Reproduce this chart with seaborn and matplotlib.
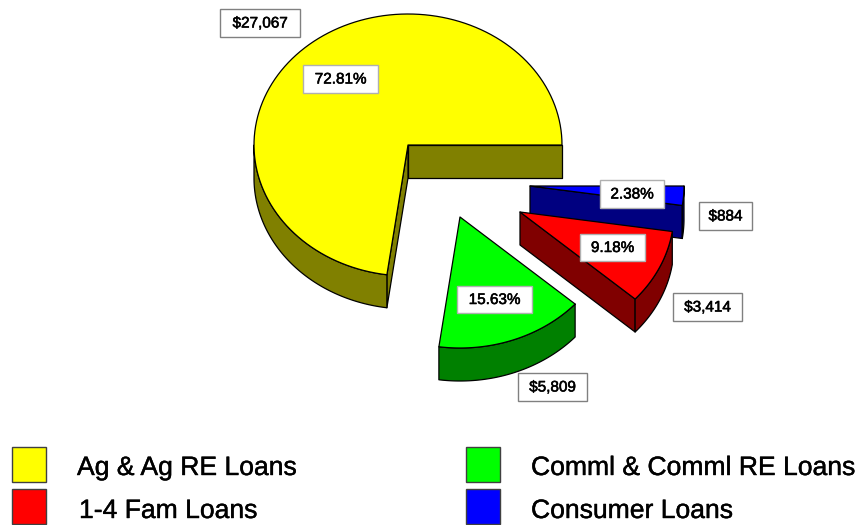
import numpy as np
import matplotlib
matplotlib.use("Agg")
import matplotlib.pyplot as plt
import matplotlib.patheffects as pe
from matplotlib.patches import Polygon, Rectangle
import seaborn as sns

# Loan balances, in the order the slices run round the pie
loan_types = ["Ag & Ag RE Loans", "Comml & Comml RE Loans", "1-4 Fam Loans", "Consumer Loans"]
loan_values = [27067, 5809, 3414, 884]

sns.set_style("white")
plt.rcParams['font.family'] = ['Liberation Sans', 'DejaVu Sans']

top_colors = sns.color_palette(["#FFFF00", "#00FF00", "#FF0000", "#0000FF"])
side_colors = sns.color_palette(["#808000", "#008000", "#800000", "#000080"])

# Layout in image pixels
rx, ry, depth = 154, 131, 33
apexes = [(408, 145), (460, 217), (520, 212), (530, 186)]
stack_order = [2, 5, 4, 3]  # blue sits behind red
value_boxes = [(220, 300, 9, 37), (518, 587, 373, 401), (673, 742, 293, 321), (699, 752, 202, 230)]
pct_boxes = [(303, 378, 65, 93), (457, 532, 286, 313), (580, 645, 234, 261), (600, 664, 180, 208)]
legend_slots = [(12, 447, 77, 468), (466, 447, 531, 468), (12, 489, 79, 511), (466, 489, 531, 511)]

fig = plt.figure(figsize=(8.56, 5.25), dpi=100)
ax = fig.add_axes([0, 0, 1, 1])
ax.set_xlim(0, 856)
ax.set_ylim(525, 0)
ax.axis("off")


def rim(cx, cy, a0, a1, n=120):
    t = np.radians(np.linspace(a0, a1, n))
    return np.column_stack([cx + rx * np.cos(t), cy - ry * np.sin(t)])


def wall(points, color, z):
    low = points[::-1] + [0, depth]
    ax.add_patch(Polygon(np.vstack([points, low]), closed=True, fc=color, ec="black", lw=0.9, zorder=z, joinstyle="round"))


def draw_slice(apex, a0, a1, top, side, z):
    cx, cy = apex
    # straight cut faces that look toward the viewer
    if np.cos(np.radians(a0)) > 0:
        wall(np.array([apex, rim(cx, cy, a0, a0, 1)[0]], dtype=float), side, z)
    if np.cos(np.radians(a1)) < 0:
        wall(np.array([apex, rim(cx, cy, a1, a1, 1)[0]], dtype=float), side, z)
    # front part of the outer rim
    lo, hi = max(a0, 180), a1
    if hi > lo:
        wall(rim(cx, cy, lo, hi), side, z)
    face = np.vstack([[apex], rim(cx, cy, a0, a1)])
    ax.add_patch(Polygon(face, closed=True, fc=top, ec="black", lw=0.9, zorder=z + 0.5, joinstyle="round"))


total = sum(loan_values)
shares = [v / total for v in loan_values]
edges = np.concatenate([[0], np.cumsum(shares) * 360])

for i in range(len(loan_values)):
    draw_slice(apexes[i], edges[i], edges[i + 1], top_colors[i], side_colors[i], stack_order[i])


def label_box(box, text, edge):
    x0, x1, y0, y1 = box
    ax.add_patch(Rectangle((x0, y0), x1 - x0, y1 - y0, fc="white", ec=edge, lw=1.0, zorder=10))
    ax.text((x0 + x1) / 2, (y0 + y1) / 2 + 0.5, text, ha="center", va="center", fontsize=11, color="black", zorder=11,
            path_effects=[pe.withStroke(linewidth=0.4, foreground="black")])


for i in range(len(loan_values)):
    label_box(value_boxes[i], f"${loan_values[i]:,}", "#808080")
    label_box(pct_boxes[i], f"{shares[i] * 100:.2f}%", "#B0B0B0")

for i, (sx, sy, tx, ty) in enumerate(legend_slots):
    ax.add_patch(Rectangle((sx, sy), 34, 35, fc=top_colors[i], ec="#404040", lw=1.0))
    ax.text(tx, ty, loan_types[i], ha="left", va="center", fontsize=19.1, color="black",
            path_effects=[pe.withStroke(linewidth=0.3, foreground="black")])

fig.savefig("out.png", dpi=100)
